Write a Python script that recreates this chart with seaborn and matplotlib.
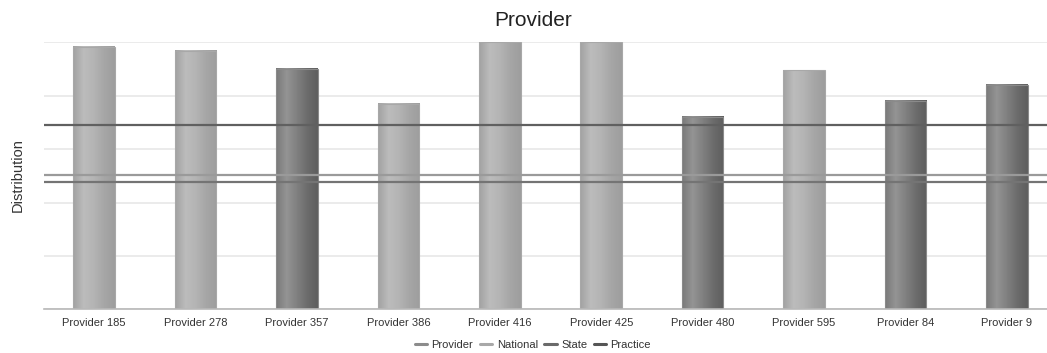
import numpy as np
import pandas as pd
import matplotlib
matplotlib.use("Agg")
import matplotlib.pyplot as plt
from matplotlib.colors import LinearSegmentedColormap
from matplotlib.lines import Line2D
import seaborn as sns

providers = ["Provider 185", "Provider 278", "Provider 357", "Provider 386", "Provider 416",
             "Provider 425", "Provider 480", "Provider 595", "Provider 84", "Provider 9"]
provider_values = [98.4, 96.9, 89.9, 77.0, 100.0, 100.0, 72.1, 89.5, 78.0, 84.0]
provider_tier = ["light", "light", "dark", "light", "light", "light", "dark", "light", "dark", "dark"]
national_value = 50.3
state_value = 47.8
practice_value = 68.9
legend_labels = ["Provider", "National", "State", "Practice"]

sns.set_theme(style="white")
plt.rcParams["font.family"] = ["Liberation Sans", "DejaVu Sans"]

df = pd.DataFrame({"provider": providers, "value": provider_values, "tier": provider_tier})

fig = plt.figure(figsize=(10.47, 3.53), dpi=100)
ax = fig.add_axes([43.5 / 1047, 43.7 / 353, 1014 / 1047, 267 / 353])

tier_colors = {"light": "#b0b0b0", "dark": "#787878"}
sns.barplot(data=df, x="provider", y="value", hue="tier", palette=tier_colors,
            dodge=False, width=0.41, legend=False, ax=ax, zorder=2)

grad_light = LinearSegmentedColormap.from_list(
    "gl", ["#a2a2a2", "#bcbcbc", "#b4b4b4", "#a6a6a6", "#9e9e9e"])
grad_dark = LinearSegmentedColormap.from_list(
    "gd", ["#7a7a7a", "#949494", "#808080", "#6c6c6c", "#5e5e5e"])
grad = np.linspace(0, 1, 64).reshape(1, -1)
for patch in list(ax.patches):
    x = patch.get_x()
    w = patch.get_width()
    h = patch.get_height()
    if h <= 0:
        continue
    fc = patch.get_facecolor()
    cmap = grad_dark if fc[0] < 0.6 else grad_light
    edge = "#8a8a8a" if fc[0] < 0.6 else "#a8a8a8"
    ax.imshow(grad, extent=[x, x + w, 0, h], aspect="auto", cmap=cmap, zorder=2.1,
              interpolation="bilinear")
    patch.set_facecolor("none")
    patch.set_edgecolor(edge)
    patch.set_linewidth(0.8)
    patch.set_zorder(2.2)

ax.set_xlim(-0.5, len(providers) - 0.5)
ax.set_ylim(0, 100)
ax.set_yticks(np.arange(0, 101, 20))
ax.set_yticklabels([])
ax.grid(axis="y", color="#e8e8e8", linewidth=1.2, zorder=0)
ax.set_axisbelow(True)
for s in ["top", "right", "left"]:
    ax.spines[s].set_visible(False)
ax.spines["bottom"].set_color("#b8b8b8")
ax.spines["bottom"].set_linewidth(1.2)
ax.spines["bottom"].set_zorder(3)

ax.axhline(practice_value, color="#606060", linewidth=1.6, zorder=3)
ax.axhline(national_value, color="#9a9a9a", linewidth=1.6, zorder=3)
ax.axhline(state_value, color="#747474", linewidth=1.6, zorder=3)

ax.set_xticks(np.arange(len(providers)))
ax.set_xticklabels(providers, fontsize=8, color="#333333")
ax.tick_params(axis="x", which="major", length=0, pad=6)
ax.set_xticks(np.arange(-0.5, len(providers), 1), minor=True)
ax.tick_params(axis="x", which="minor", length=3, color="#b8b8b8", width=1)
ax.tick_params(axis="y", length=0)
ax.set_xlabel("")
ax.set_ylabel("")

fig.text(18 / 1047, 1 - 175 / 353, "Distribution", rotation=90, ha="center", va="center",
         fontsize=10.5, color="#333333")
fig.text(533 / 1047, 1 - 20 / 353, "Provider", ha="center", va="center",
         fontsize=15, color="#222222")

handles = [Line2D([], [], color=c, linewidth=2.2)
           for c in ["#8c8c8c", "#a8a8a8", "#6a6a6a", "#555555"]]
fig.legend(handles, legend_labels, loc="center", bbox_to_anchor=(533 / 1047, 1 - 345 / 353),
           ncol=4, frameon=False, fontsize=8, handlelength=1.1, handletextpad=0.4,
           columnspacing=0.6, labelcolor="#333333")

fig.savefig("out.png", dpi=100)
